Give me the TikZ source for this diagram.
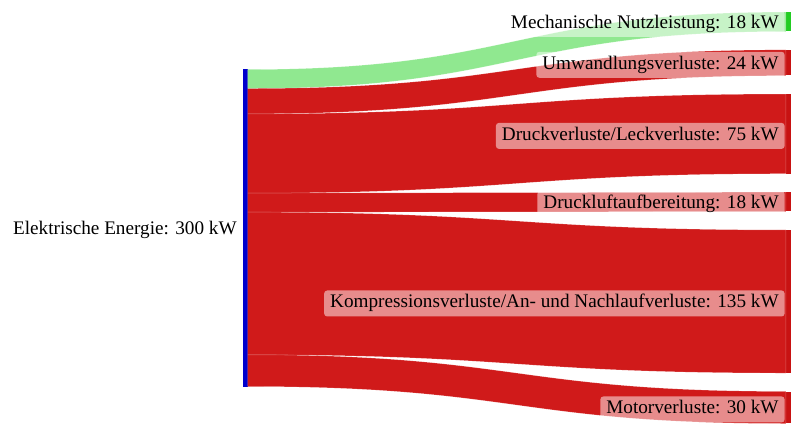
\documentclass[tikz,border=0pt]{standalone}
\usepackage{fontspec}
\setmainfont{Liberation Serif}
\usetikzlibrary{positioning}

\definecolor{srcblue}{RGB}{0,0,205}
\definecolor{lossred}{RGB}{208,26,26}
\definecolor{barred}{RGB}{200,18,18}
\definecolor{usegreen}{RGB}{144,232,144}
\definecolor{bargreen}{RGB}{34,204,34}

\begin{document}
\begin{tikzpicture}[x=1pt,y=-1pt,
    bar/.style={rectangle,inner sep=0pt,minimum width=5pt},
    lbl/.style={fill=white,fill opacity=0.5,text opacity=1,rounded corners=3pt,
                inner xsep=6pt,minimum height=26pt,text height=13pt,text depth=4pt,
                yshift=-2pt,font=\fontsize{19.2}{22}\selectfont},
    flow/.style={draw=white,draw opacity=0.3,line width=0.4pt}]
  \useasboundingbox (0,0) rectangle (800,436);

  % nodes
  \node[bar,fill=srcblue,minimum width=4.7pt,minimum height=317pt] (src) at (245.4,228) {};
  \node[bar,fill=bargreen,minimum height=19.02pt]  (t1) at (788.5,21.81)  {};
  \node[bar,fill=barred,minimum height=25.36pt]    (t2) at (788.5,62.8)   {};
  \node[bar,fill=barred,minimum height=79.25pt]    (t3) at (788.5,133.9)  {};
  \node[bar,fill=barred,minimum height=19.02pt]    (t4) at (788.5,201.84) {};
  \node[bar,fill=barred,minimum height=142.65pt]   (t5) at (788.5,301.48) {};
  \node[bar,fill=barred,minimum height=31.7pt]     (t6) at (788.5,407.45) {};

  % split points on the source bar
  \coordinate (s0) at (247.7,69.5);
  \coordinate (s1) at (247.7,88.52);
  \coordinate (s2) at (247.7,113.88);
  \coordinate (s3) at (247.7,193.13);
  \coordinate (s4) at (247.7,212.15);
  \coordinate (s5) at (247.7,354.8);
  \coordinate (s6) at (247.7,386.5);

  % flows
  \foreach \a/\b/\t/\c in {0/1/t1/usegreen,1/2/t2/lossred,2/3/t3/lossred,
                           3/4/t4/lossred,4/5/t5/lossred,5/6/t6/lossred}
    \fill[flow,fill=\c] (s\a) .. controls +(269,0) and +(-269,0) .. (\t.north west)
      -- (\t.south west) .. controls +(-269,0) and +(269,0) .. (s\b) -- cycle;

  % labels
  \node[lbl,left=0pt of src] (srclbl) {Elektrische Energie: 300 kW};
  \node[lbl,left=1pt of t1] (l1) {Mechanische Nutzleistung: 18 kW};
  \node[lbl,left=1pt of t2] (l2) {Umwandlungsverluste: 24 kW};
  \node[lbl,left=1pt of t3] (l3) {Druckverluste/Leckverluste: 75 kW};
  \node[lbl,left=1pt of t4] (l4) {Druckluftaufbereitung: 18 kW};
  \node[lbl,left=1pt of t5] (l5) {Kompressionsverluste/An- und Nachlaufverluste: 135 kW};
  \node[lbl,left=1pt of t6] (l6) {Motorverluste: 30 kW};
\end{tikzpicture}
\end{document}
